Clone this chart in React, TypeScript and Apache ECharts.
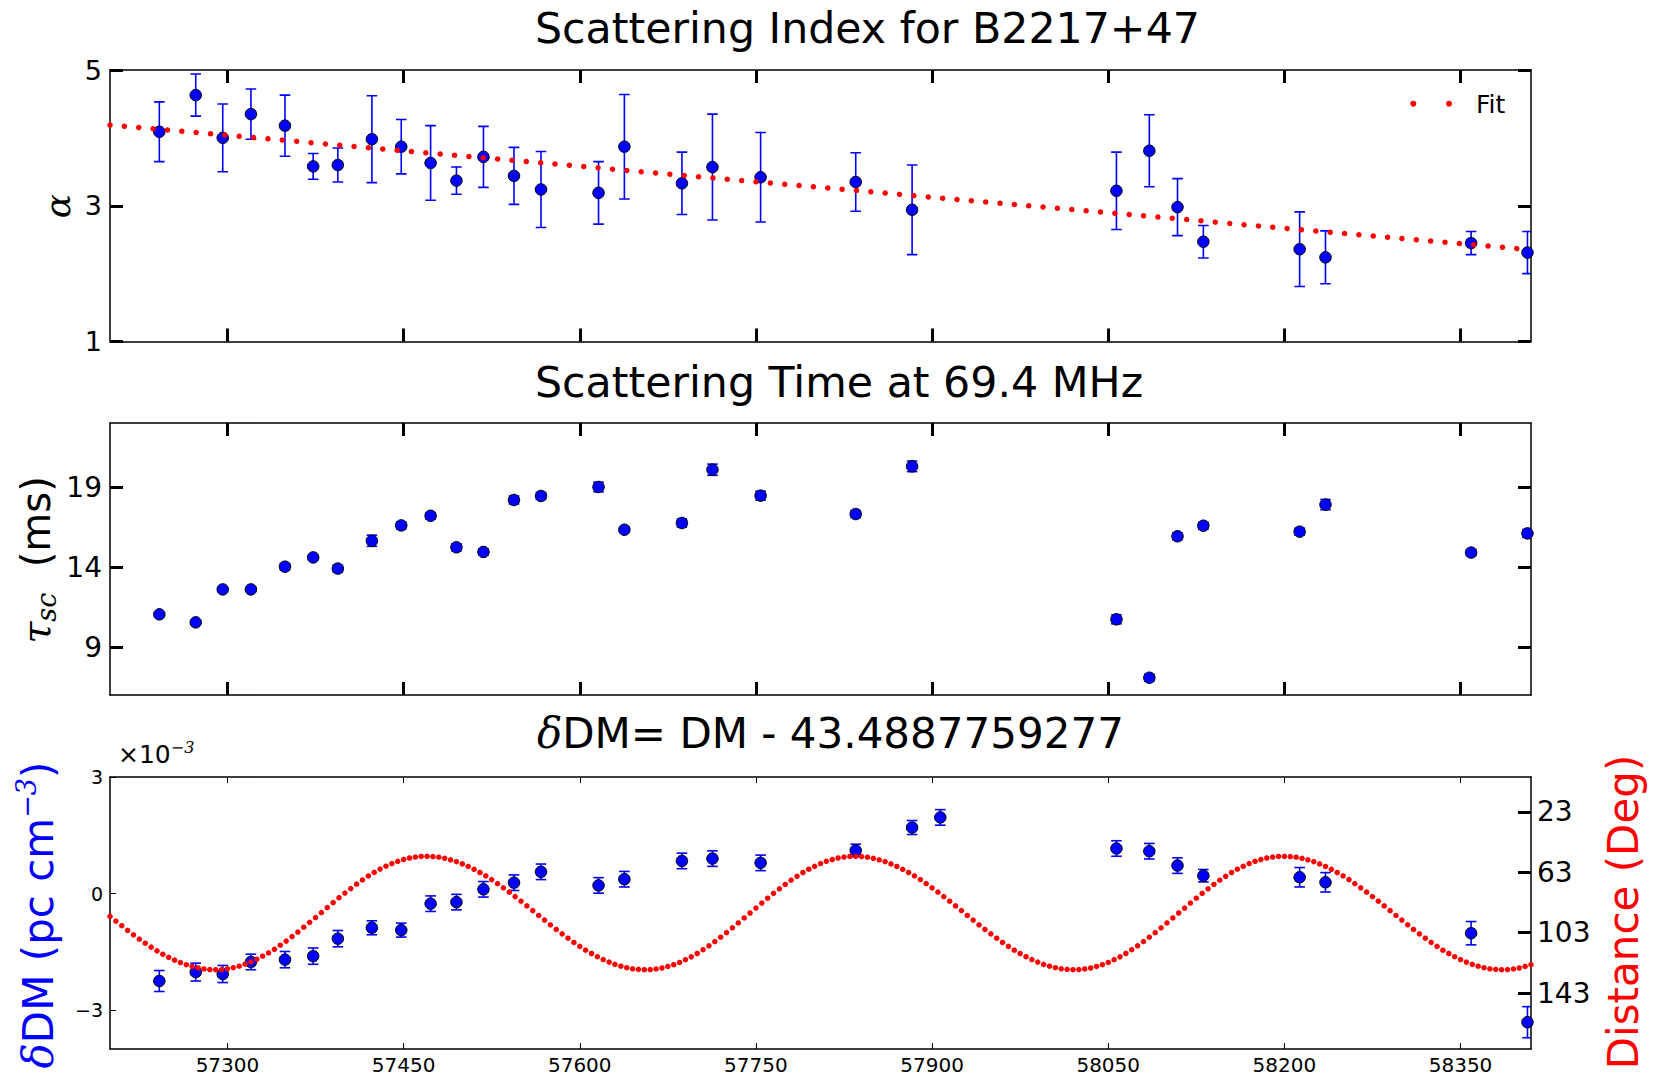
import React, { useEffect, useRef } from "react";
import * as echarts from "echarts";

// ---------- data ----------
const X_MIN = 57200;
const X_MAX = 58410;
const X_TICKS = [57300, 57450, 57600, 57750, 57900, 58050, 58200, 58350];

const ALPHA_TICKS = [1, 3, 5];
const TAU_TICKS = [9, 14, 19];
const DM_TICKS = [-3, 0, 3];
const DIST_TICKS = [23, 63, 103, 143];

// epochs (MJD) of the alpha / tau measurements
const MJD = [57242, 57273, 57296, 57320, 57349, 57373, 57394, 57423, 57448, 57473, 57495, 57518, 57544, 57567, 57616, 57638, 57687, 57713, 57754, 57835, 57883, 58057, 58085, 58109, 58131, 58213, 58235, 58359, 58407];

const ALPHA = [4.09, 4.63, 4.0, 4.35, 4.18, 3.58, 3.6, 3.98, 3.87, 3.63, 3.37, 3.72, 3.44, 3.24, 3.19, 3.87, 3.33, 3.57, 3.42, 3.35, 2.94, 3.22, 3.81, 2.98, 2.47, 2.36, 2.24, 2.45, 2.31];
const ALPHA_ERR = [0.44, 0.31, 0.5, 0.37, 0.45, 0.19, 0.25, 0.64, 0.4, 0.55, 0.2, 0.45, 0.42, 0.56, 0.46, 0.77, 0.46, 0.78, 0.66, 0.43, 0.66, 0.57, 0.53, 0.42, 0.24, 0.55, 0.39, 0.17, 0.31];

// fit line end points
const FIT_MJD = [57200, 58410];
const FIT_ALPHA = [4.19, 2.35];

const TAU = [11.04, 10.54, 12.6, 12.6, 14.02, 14.6, 13.9, 15.64, 16.6, 17.2, 15.23, 14.94, 18.19, 18.44, 19.0, 16.33, 16.75, 20.08, 18.46, 17.31, 20.29, 10.73, 7.08, 15.92, 16.58, 16.21, 17.9, 14.9, 16.1];
const TAU_ERR = [0.1, 0.1, 0.15, 0.12, 0.2, 0.15, 0.22, 0.35, 0.22, 0.2, 0.22, 0.18, 0.25, 0.22, 0.3, 0.17, 0.25, 0.35, 0.28, 0.22, 0.33, 0.28, 0.22, 0.22, 0.22, 0.22, 0.32, 0.2, 0.25];

// delta DM epochs (one extra epoch) and values in units of 1e-3 pc cm^-3
const DM_MJD = [57242, 57273, 57296, 57320, 57349, 57373, 57394, 57423, 57448, 57473, 57495, 57518, 57544, 57567, 57616, 57638, 57687, 57713, 57754, 57835, 57883, 57907, 58057, 58085, 58109, 58131, 58213, 58235, 58359, 58407];
const DM = [-2.25, -2.02, -2.07, -1.76, -1.7, -1.61, -1.16, -0.88, -0.94, -0.26, -0.22, 0.11, 0.28, 0.56, 0.21, 0.37, 0.84, 0.9, 0.79, 1.11, 1.7, 1.96, 1.16, 1.09, 0.72, 0.46, 0.42, 0.29, -1.02, -3.31];
const DM_ERR = [0.27, 0.23, 0.22, 0.2, 0.21, 0.21, 0.21, 0.18, 0.18, 0.2, 0.2, 0.2, 0.2, 0.2, 0.2, 0.2, 0.2, 0.2, 0.2, 0.16, 0.18, 0.2, 0.2, 0.2, 0.2, 0.16, 0.25, 0.25, 0.3, 0.4];

// angular distance (deg), one reading every 5 days from 57200
const DIST_START = 57200;
const DIST_STEP = 5;
const DIST_DEG = [
  92.2, 95.3, 98.4, 101.5, 104.4, 107.3, 110.0, 112.6, 115.0, 117.3, 119.3, 121.2, 122.8, 124.2, 125.4, 126.3, 127.0, 127.4,
  127.5, 127.4, 126.9, 126.2, 125.2, 123.9, 122.4, 120.6, 118.6, 116.4, 114.0, 111.3, 108.6, 105.6, 102.6, 99.4, 96.2, 93.0, 89.7, 86.4, 83.1, 79.9, 76.8, 73.8, 70.9, 68.1, 65.5, 63.1, 60.9, 59.0, 57.3, 55.8, 54.6, 53.6, 53.0, 52.6,
  52.5, 52.7, 53.1, 53.8, 54.8, 56.0, 57.5, 59.2, 61.1, 63.2, 65.4, 67.9, 70.5, 73.3, 76.2, 79.1, 82.2, 85.3, 88.4, 91.6, 94.7, 97.8, 100.9, 103.8, 106.7, 109.5, 112.1, 114.6, 116.8, 118.9, 120.8, 122.5, 124.0, 125.2, 126.2, 126.9, 127.3, 127.5,
  127.4, 127.0, 126.4, 125.4, 124.2, 122.7, 120.9, 119.0, 116.8, 114.3, 111.7, 108.9, 106.0, 103.0, 99.8, 96.6, 93.3, 90.0, 86.7, 83.4, 80.2, 77.0, 74.0, 71.1, 68.3, 65.7, 63.2, 61.0, 59.1, 57.3, 55.8, 54.6, 53.6, 53.0, 52.6,
  52.5, 52.7, 53.1, 53.8, 54.8, 56.0, 57.5, 59.2, 61.1, 63.2, 65.4, 67.9, 70.5, 73.3, 76.2, 79.1, 82.2, 85.3, 88.4, 91.6, 94.7, 97.8, 100.9, 103.8, 106.7, 109.5, 112.1, 114.6, 116.8, 118.9, 120.8, 122.5, 124.0, 125.2, 126.2, 126.9, 127.3, 127.5,
  127.4, 127.0, 126.4, 125.4, 124.2, 122.7, 120.9, 119.0, 116.8, 114.3, 111.7, 108.9, 106.0, 103.0, 99.8, 96.6, 93.3, 90.0, 86.7, 83.4, 80.2, 77.0, 74.0, 71.1, 68.3, 65.7, 63.2, 61.0, 59.1, 57.3, 55.8, 54.6, 53.6, 53.0, 52.6,
  52.5, 52.7, 53.1, 53.8, 54.8, 56.0, 57.5, 59.2, 61.1, 63.2, 65.4, 67.9, 70.5, 73.3, 76.2, 79.1, 82.2, 85.3, 88.4, 91.6, 94.7, 97.8, 100.9, 103.8, 106.7, 109.5, 112.1, 114.6, 116.8, 118.9, 120.8, 122.5, 124.0, 125.2, 126.2, 126.9, 127.3, 127.5,
  127.4, 127.0, 126.4, 125.4, 124.2,
];

const TITLES = ["Scattering Index for B2217+47", "Scattering Time at 69.4 MHz", "DM= DM - 43.4887759277"];

// ---------- helpers ----------
const SANS = "DejaVu Sans";
const SERIF = "DejaVu Serif";
const BLUE = "#0000ff";
const RED = "#ff0000";
const TITLE_SIZE = 42.7;

const minusFmt = (v: number) => (v < 0 ? "\u2212" + Math.abs(v) : String(v));
const plainFmt = (v: number) => String(v);

const errRender = (capHalf: number, lw: number) => (params: any, api: any) => {
  const x = api.value(0);
  const lo = api.value(1);
  const hi = api.value(2);
  const a = api.coord([x, hi]);
  const b = api.coord([x, lo]);
  const st = { stroke: BLUE, lineWidth: lw };
  return {
    type: "group",
    children: [
      { type: "line", shape: { x1: a[0], y1: a[1], x2: b[0], y2: b[1] }, style: st },
      { type: "line", shape: { x1: a[0] - capHalf, y1: a[1], x2: a[0] + capHalf, y2: a[1] }, style: st },
      { type: "line", shape: { x1: b[0] - capHalf, y1: b[1], x2: b[0] + capHalf, y2: b[1] }, style: st },
    ],
  };
};

const xAxis = (gridIndex: number, position: string, thick: boolean, showLabel: boolean) => ({
  type: "value",
  gridIndex,
  position,
  min: X_MIN,
  max: X_MAX,
  splitLine: { show: false },
  axisLine: { show: true, onZero: false, lineStyle: { color: "#000", width: 1.5 } },
  axisTick: {
    show: true,
    inside: true,
    length: thick ? 13 : 6,
    lineStyle: { color: "#000", width: thick ? 3 : 1 },
    customValues: X_TICKS,
  },
  axisLabel: {
    show: showLabel,
    customValues: X_TICKS,
    margin: 6,
    fontSize: 20,
    fontFamily: SANS,
    color: "#000",
    formatter: plainFmt,
  },
});

const yAxis = (
  gridIndex: number,
  position: string,
  min: number,
  max: number,
  ticks: number[],
  thick: boolean,
  showLabel: boolean,
  fontSize: number,
  margin: number,
  inverse = false
) => ({
  type: "value",
  gridIndex,
  position,
  min,
  max,
  inverse,
  splitLine: { show: false },
  axisLine: { show: true, onZero: false, lineStyle: { color: "#000", width: 1.5 } },
  axisTick: {
    show: true,
    inside: true,
    length: thick ? 13 : 6,
    lineStyle: { color: "#000", width: thick ? 3 : 1 },
    customValues: ticks,
  },
  axisLabel: {
    show: showLabel,
    customValues: ticks,
    margin,
    fontSize,
    fontFamily: SANS,
    color: "#000",
    formatter: minusFmt,
  },
});

const scatter = (xi: number, yi: number, data: number[][]) => ({
  type: "scatter",
  xAxisIndex: xi,
  yAxisIndex: yi,
  data,
  symbol: "circle",
  symbolSize: 11.5,
  itemStyle: { color: BLUE, borderColor: "#000", borderWidth: 1, opacity: 1 },
  z: 4,
});

const errSeries = (xi: number, yi: number, data: number[][]) => ({
  type: "custom",
  xAxisIndex: xi,
  yAxisIndex: yi,
  data,
  encode: { x: 0, y: [1, 2] },
  renderItem: errRender(5.3, 1.6),
  clip: true,
  z: 3,
});

export default function App() {
  const ref = useRef<HTMLDivElement>(null);

  useEffect(() => {
    if (!ref.current) return;
    const chart = echarts.init(ref.current, undefined, { renderer: "svg" });

    const alphaPts = MJD.map((m, i) => [m, ALPHA[i]]);
    const alphaErr = MJD.map((m, i) => [m, ALPHA[i] - ALPHA_ERR[i], ALPHA[i] + ALPHA_ERR[i]]);
    const tauPts = MJD.map((m, i) => [m, TAU[i]]);
    const tauErr = MJD.map((m, i) => [m, TAU[i] - TAU_ERR[i], TAU[i] + TAU_ERR[i]]);
    const dmPts = DM_MJD.map((m, i) => [m, DM[i]]);
    const dmErr = DM_MJD.map((m, i) => [m, DM[i] - DM_ERR[i], DM[i] + DM_ERR[i]]);
    const distPts = DIST_DEG.map((d, i) => [DIST_START + i * DIST_STEP, d]);
    const fitPts = FIT_MJD.map((m, i) => [m, FIT_ALPHA[i]]);

    const option: any = {
      animation: false,
      backgroundColor: "#fff",
      grid: [
        { left: 110, top: 70, width: 1421, height: 271.5, outerBoundsMode: "none" },
        { left: 110, top: 423, width: 1421, height: 272, outerBoundsMode: "none" },
        { left: 110, top: 777, width: 1421, height: 272, outerBoundsMode: "none" },
      ],
      xAxis: [
        xAxis(0, "bottom", true, false),
        xAxis(0, "top", true, false),
        xAxis(1, "bottom", true, false),
        xAxis(1, "top", true, false),
        xAxis(2, "bottom", false, true),
        xAxis(2, "top", false, false),
      ],
      yAxis: [
        yAxis(0, "left", 1, 5, ALPHA_TICKS, true, true, 27, 8),
        yAxis(0, "right", 1, 5, ALPHA_TICKS, true, false, 27, 8),
        yAxis(1, "left", 6, 23, TAU_TICKS, true, true, 28, 8),
        yAxis(1, "right", 6, 23, TAU_TICKS, true, false, 28, 8),
        yAxis(2, "left", -4, 3, DM_TICKS, false, true, 19, 7),
        yAxis(2, "right", 0, 180, DIST_TICKS, true, true, 28, 6, true),
      ],
      series: [
        errSeries(0, 0, alphaErr),
        scatter(0, 0, alphaPts),
        {
          type: "line",
          name: "Fit",
          xAxisIndex: 0,
          yAxisIndex: 0,
          data: fitPts,
          showSymbol: false,
          symbol: "none",
          lineStyle: { color: RED, width: 5.5, type: [0.01, 14.4], cap: "round" },
          z: 5,
        },
        errSeries(2, 2, tauErr),
        scatter(2, 2, tauPts),
        errSeries(4, 4, dmErr),
        scatter(4, 4, dmPts),
        {
          type: "scatter",
          xAxisIndex: 4,
          yAxisIndex: 5,
          data: distPts,
          symbol: "circle",
          symbolSize: 5.5,
          itemStyle: { color: RED, opacity: 1 },
          z: 6,
        },
      ],
      graphic: [
        // titles
        {
          type: "text",
          x: 535,
          y: 28,
          style: { text: TITLES[0], fontFamily: SANS, fontSize: TITLE_SIZE, fill: "#000", align: "left", verticalAlign: "middle" },
        },
        {
          type: "text",
          x: 535,
          y: 382,
          style: { text: TITLES[1], fontFamily: SANS, fontSize: TITLE_SIZE, fill: "#000", align: "left", verticalAlign: "middle" },
        },
        {
          type: "text",
          x: 537,
          y: 733.5,
          style: {
            text: "{d|\u03b4}{n|" + TITLES[2] + "}",
            rich: {
              d: { fontFamily: SERIF, fontStyle: "italic", fontSize: 42, fill: "#000" },
              n: { fontFamily: SANS, fontSize: 42, fill: "#000" },
            },
            fill: "#000",
            align: "left",
            verticalAlign: "middle",
          },
        },
        // legend
        { type: "circle", shape: { cx: 1413.3, cy: 103.7, r: 3 }, style: { fill: RED } },
        { type: "circle", shape: { cx: 1449, cy: 103.7, r: 3 }, style: { fill: RED } },
        {
          type: "text",
          x: 1476,
          y: 104,
          style: { text: "Fit", fontFamily: SANS, fontSize: 25, fill: "#000", align: "left", verticalAlign: "middle" },
        },
        // axis names
        {
          type: "text",
          x: 57,
          y: 206,
          rotation: Math.PI / 2,
          style: { text: "\u03b1", fontFamily: SERIF, fontStyle: "italic", fontSize: 36, fill: "#000", align: "center", verticalAlign: "middle" },
        },
        {
          type: "text",
          x: 36,
          y: 560,
          rotation: Math.PI / 2,
          style: {
            text: "{t|\u03c4}{s|sc}{n|  (ms)}",
            rich: {
              t: { fontFamily: SERIF, fontStyle: "italic", fontSize: 40, lineHeight: 48, verticalAlign: "middle", fill: "#000" },
              s: { fontFamily: SERIF, fontStyle: "italic", fontSize: 27, lineHeight: 27, verticalAlign: "bottom", fill: "#000" },
              n: { fontFamily: SANS, fontSize: 40, lineHeight: 48, verticalAlign: "middle", fill: "#000" },
            },
            fill: "#000",
            align: "center",
            verticalAlign: "middle",
          },
        },
        {
          type: "text",
          x: 38,
          y: 915,
          rotation: Math.PI / 2,
          style: {
            text: "{d|\u03b4}{n|DM (pc cm}{p|\u22123}{n|)}",
            rich: {
              d: { fontFamily: SERIF, fontStyle: "italic", fontSize: 42, lineHeight: 50, verticalAlign: "middle", fill: BLUE },
              n: { fontFamily: SANS, fontSize: 42, lineHeight: 50, verticalAlign: "middle", fill: BLUE },
              p: { fontFamily: SERIF, fontStyle: "italic", fontSize: 27, lineHeight: 27, verticalAlign: "top", fill: BLUE },
            },
            fill: BLUE,
            align: "center",
            verticalAlign: "middle",
          },
        },
        {
          type: "text",
          x: 1623,
          y: 912,
          rotation: Math.PI / 2,
          style: { text: "Distance (Deg)", fontFamily: SANS, fontSize: 42, fill: RED, align: "center", verticalAlign: "middle" },
        },
        // offset text of the dm axis
        {
          type: "text",
          x: 118,
          y: 754,
          style: {
            text: "{a|\u00d710}{b|\u22123}",
            rich: {
              a: { fontFamily: SANS, fontSize: 25, lineHeight: 30, verticalAlign: "middle", fill: "#000" },
              b: { fontFamily: SERIF, fontStyle: "italic", fontSize: 16, lineHeight: 16, verticalAlign: "top", fill: "#000" },
            },
            fill: "#000",
            align: "left",
            verticalAlign: "middle",
          },
        },
      ],
    };

    chart.setOption(option);
    return () => chart.dispose();
  }, []);

  return (
    <div
      ref={ref}
      style={{ position: "absolute", left: 0, top: 0, width: 1654, height: 1076, background: "#fff" }}
    />
  );
}
